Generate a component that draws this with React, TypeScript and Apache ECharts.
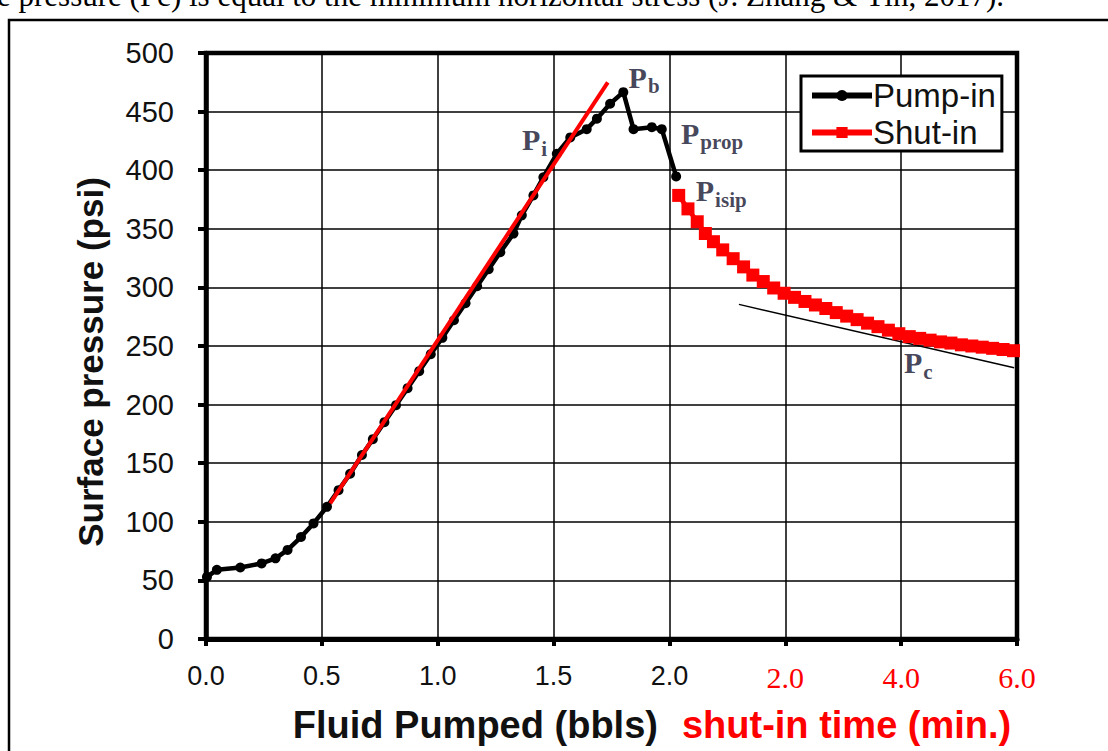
import React, { useEffect, useRef } from "react";
import * as echarts from "echarts";

// Pump-in stage: fluid pumped (bbls) vs surface pressure (psi)
const pumpInVolume = [
  0.004, 0.047, 0.148, 0.24, 0.3, 0.352, 0.41, 0.464, 0.522, 0.572, 0.622, 0.673,
  0.72, 0.77, 0.82, 0.87, 0.92, 0.97, 1.02, 1.07, 1.12, 1.17, 1.22, 1.27, 1.327,
  1.363, 1.413, 1.456, 1.514, 1.572, 1.643, 1.687, 1.744, 1.801, 1.845, 1.924,
  1.967, 2.029,
];
const pumpInPressure = [
  53, 59, 61, 64.5, 68.8, 76, 87, 98.6, 112.8, 127, 141, 157,
  170.5, 185, 199.5, 214, 228.5, 243, 257, 272, 286.5, 301, 315.5, 330, 345.9,
  361.5, 378.5, 394, 414, 428, 435, 444, 456.7, 466.6, 435, 436.7,
  435, 394.7,
];

// Shut-in stage: shut-in time (min.) vs surface pressure (psi)
const shutInTime = [
  0.16, 0.32, 0.48, 0.62, 0.76, 0.92, 1.1, 1.28, 1.44, 1.62, 1.8, 1.98, 2.16,
  2.34, 2.52, 2.7, 2.88, 3.06, 3.24, 3.42, 3.6, 3.78, 3.96, 4.14, 4.32, 4.5,
  4.68, 4.86, 5.04, 5.22, 5.4, 5.58, 5.76, 5.94,
];
const shutInPressure = [
  378.5, 367, 356, 346, 339, 332, 324.5, 317.5, 310.5, 305, 299.5, 295, 291.5,
  288, 285, 282, 278.5, 275.5, 272.5, 269.5, 266.5, 263.5, 260.5, 258, 256.5, 255,
  253.5, 252.5, 251, 250, 249, 248, 247, 246,
];

// Straight-line fits
const pumpTrendVolume = [0.536, 1.734];
const pumpTrendPressure = [115.7, 475];
const closureTrendTime = [1.2, 5.95];
const closureTrendPressure = [285.5, 231.5];

// Axis ticks
const pumpedTicks = [0, 0.5, 1.0, 1.5, 2.0];
const shutInTicks = [2.0, 4.0, 6.0];
const pressureTicks = [0, 50, 100, 150, 200, 250, 300, 350, 400, 450, 500];

// Annotations: subscript text and anchor (axis units, pressure)
const annotationSubs = ["b", "i", "prop", "isip", "c"];
const annotationX = [1.826, 1.366, 2.052, 2.116, 3.014];
const annotationY = [479, 425.4, 431, 382, 235.3];

const PUMPED_MAX = 2.0;
const MIN_PER_UNIT = 4; // 0.5 axis unit = 2 minutes
const minToAxis = (t: number) => PUMPED_MAX + t / MIN_PER_UNIT;

export default function App() {
  const ref = useRef<HTMLDivElement>(null);
  useEffect(() => {
    if (!ref.current) return;
    const chart = echarts.init(ref.current, null, { renderer: "svg" });
    const sans = '"Liberation Sans", Arial, sans-serif';
    const serif = '"Liberation Serif", "Times New Roman", serif';
    const ink = "#111";
    const axisMax = minToAxis(shutInTicks[shutInTicks.length - 1]);

    const option: any = {
      animation: false,
      backgroundColor: "#fff",
      grid: {
        left: 206,
        top: 53,
        right: 91,
        bottom: 112,
        show: true,
        borderColor: "#000",
        borderWidth: 4.5,
        backgroundColor: "transparent",
      },
      xAxis: {
        type: "value",
        min: 0,
        max: axisMax,
        interval: 0.5,
        axisLine: { show: true, lineStyle: { color: "#000", width: 5 } },
        axisTick: { show: true, length: 7, lineStyle: { color: "#000", width: 4 } },
        splitLine: { show: true, lineStyle: { color: "#000", width: 1.5 } },
        axisLabel: {
          margin: 23,
          color: ink,
          fontFamily: sans,
          fontSize: 27,
          formatter: (v: number) => {
            if (v <= PUMPED_MAX + 1e-6) {
              const t = pumpedTicks.find((p) => Math.abs(p - v) < 1e-6);
              return t === undefined ? "" : t.toFixed(1);
            }
            const m = (v - PUMPED_MAX) * MIN_PER_UNIT;
            const t = shutInTicks.find((p) => Math.abs(p - m) < 1e-6);
            return t === undefined ? "" : `{r|${t.toFixed(1)}}`;
          },
          rich: {
            r: { color: "#ff0000", fontFamily: serif, fontSize: 30 },
          },
        },
      },
      yAxis: {
        type: "value",
        min: pressureTicks[0],
        max: pressureTicks[pressureTicks.length - 1],
        interval: pressureTicks[1] - pressureTicks[0],
        axisLine: { show: true, lineStyle: { color: "#000", width: 4.5 } },
        axisTick: { show: true, length: 8, lineStyle: { color: "#000", width: 4 } },
        splitLine: { show: true, lineStyle: { color: "#000", width: 1.5 } },
        axisLabel: {
          margin: 32,
          color: ink,
          fontFamily: sans,
          fontSize: 29,
        },
      },
      legend: {
        data: ["Pump-in", "Shut-in"],
        orient: "vertical",
        left: 801,
        top: 76,
        padding: [3, 6, 2, 8],
        itemGap: 4,
        itemWidth: 60,
        itemHeight: 14,
        backgroundColor: "#fff",
        borderColor: "#000",
        borderWidth: 3,
        borderRadius: 0,
        lineStyle: { width: 6 },
        textStyle: { color: ink, fontFamily: sans, fontSize: 33, padding: [0, 0, 0, -4] },
      },
      graphic: [
        {
          type: "rect",
          shape: { x: 9, y: 20, width: 1200, height: 900 },
          style: { fill: "none", stroke: "#000", lineWidth: 2.5 },
          silent: true,
          z: 0,
        },
        {
          type: "text",
          x: -3,
          y: 11,
          style: {
            text: "e pressure (Pc) is equal to the minimum horizontal stress (J. Zhang & Yin, 2017).",
            font: `31px ${serif}`,
            fill: "#000",
            verticalAlign: "bottom",
          },
        },
        {
          type: "text",
          x: 90,
          y: 362,
          rotation: Math.PI / 2,
          style: {
            text: "Surface pressure (psi)",
            font: `bold 35px ${sans}`,
            fill: ink,
            align: "center",
            verticalAlign: "middle",
          },
        },
        {
          type: "text",
          x: 652,
          y: 725,
          style: {
            text: "{a|Fluid Pumped (bbls)}{b|shut-in time (min.)}",
            align: "center",
            verticalAlign: "middle",
            rich: {
              a: { fontSize: 38, fontWeight: "bold", fontFamily: sans, fill: ink, color: ink },
              b: { fontSize: 38, fontWeight: "bold", fontFamily: sans, fill: "#ff0000", color: "#ff0000", padding: [0, 0, 0, 24] },
            },
          },
        },
      ],
      series: [
        {
          name: "closure",
          type: "line",
          data: closureTrendTime.map((t, i) => [minToAxis(t), closureTrendPressure[i]]),
          symbol: "none",
          lineStyle: { color: "#000", width: 1.5 },
          z: 2,
        },
        {
          name: "Pump-in",
          type: "line",
          data: pumpInVolume.map((v, i) => [v, pumpInPressure[i]]),
          symbol: "circle",
          symbolSize: 10,
          itemStyle: { color: "#000" },
          lineStyle: { color: "#000", width: 4.5 },
          z: 3,
        },
        {
          name: "Shut-in",
          type: "line",
          data: shutInTime.map((t, i) => [minToAxis(t), shutInPressure[i]]),
          symbol: "rect",
          symbolSize: 13,
          itemStyle: { color: "#ff0000" },
          lineStyle: { color: "#ff0000", width: 4.5 },
          z: 4,
        },
        {
          name: "pumpTrend",
          type: "line",
          data: pumpTrendVolume.map((v, i) => [v, pumpTrendPressure[i]]),
          symbol: "none",
          lineStyle: { color: "#ff0000", width: 4 },
          z: 5,
        },
        {
          name: "labels",
          type: "scatter",
          symbolSize: 1,
          itemStyle: { color: "transparent" },
          data: annotationX.map((x, i) => ({
            value: [x, annotationY[i]],
            label: { formatter: `{p|P}{s|${annotationSubs[i]}}` },
          })),
          label: {
            show: true,
            position: [0, 0],
            align: "left",
            verticalAlign: "middle",
            rich: {
              p: { fontFamily: serif, fontWeight: "bold", fontSize: 30, color: "#151530" },
              s: { fontFamily: serif, fontWeight: "bold", fontSize: 21, color: "#151530", padding: [18, 0, 0, 1] },
            },
          },
          z: 6,
        },
      ],
    };
    chart.setOption(option);
    return () => chart.dispose();
  }, []);
  return (
    <div
      ref={ref}
      style={{ position: "fixed", left: 0, top: 0, width: 1108, height: 751, background: "#fff" }}
    />
  );
}
